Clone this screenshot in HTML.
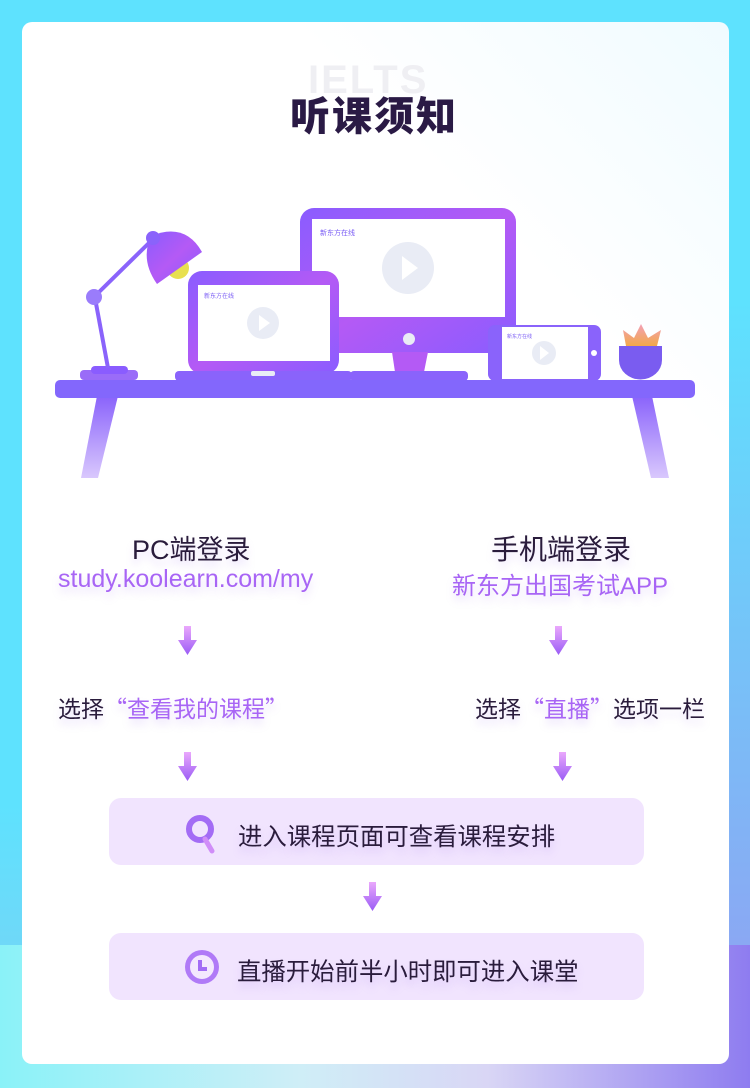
<!DOCTYPE html>
<html><head><meta charset="utf-8"><style>
*{margin:0;padding:0;box-sizing:border-box}
body{width:750px;height:1088px;position:relative;overflow:hidden;font-family:"Liberation Sans","Noto Sans CJK SC",sans-serif;
background:linear-gradient(90deg,#8af2f8 0%,#cfeef7 40%,#d9d6f5 65%,#8e7cf0 100%);}
#top{position:absolute;left:0;top:0;width:750px;height:945px;background:linear-gradient(180deg,#5ee2fe 0%,#5ee2fe 85%,#6fd8f8 100%)}
#top:after{content:"";position:absolute;right:0;top:300px;width:30px;height:645px;background:linear-gradient(180deg,#5ee2fe,#8aa8f3)}
#card{position:absolute;left:22px;top:22px;width:707px;height:1042px;background:linear-gradient(225deg,#f0fbff 0%,#fff 25%);border-radius:10px}
.t{position:absolute;white-space:nowrap;color:#2a1c3c;text-shadow:0 6px 8px rgba(170,130,240,.25)}
.p{color:#a865f5}
.q{font-family:"Noto Sans CJK SC",sans-serif}
.box{position:absolute;left:109px;width:535px;height:67px;background:#f1e4fe;border-radius:12px}
</style></head><body>
<div id="top"></div>
<div id="card"></div>
<div class="t" style="left:308px;top:58px;font-size:40px;font-weight:bold;color:#efeff3;text-shadow:none;letter-spacing:2px">IELTS</div>
<div class="t" style="left:290px;top:84px;font-size:40px;font-weight:900;color:#2a1a45;letter-spacing:2px;text-shadow:none">听课须知</div>

<svg style="position:absolute;left:0;top:0" width="750" height="500">
<defs>
<linearGradient id="leg" x1="0" y1="0" x2="0" y2="1"><stop offset="0" stop-color="#8a63fb"/><stop offset="1" stop-color="#d9c8fd"/></linearGradient>
<linearGradient id="pur" x1="0" y1="0" x2="1" y2="1"><stop offset="0" stop-color="#8a5cff"/><stop offset=".5" stop-color="#b45af5"/><stop offset="1" stop-color="#8a5cff"/></linearGradient>
<linearGradient id="leaf" x1="0" y1="0" x2="0" y2="1"><stop offset="0" stop-color="#f3a0b8"/><stop offset="1" stop-color="#f2a84a"/></linearGradient>
</defs>
<polygon points="97,396 118,396 98,478 81,478" fill="url(#leg)"/>
<polygon points="632,396 652,396 669,478 651,478" fill="url(#leg)"/>
<rect x="300" y="208" width="216" height="145" rx="14" fill="url(#pur)"/>
<rect x="312" y="219" width="193" height="98" fill="#fff"/>
<ellipse cx="408" cy="268" rx="26" ry="26" fill="#e9ecf5"/>
<polygon points="402,256 402,280 418,268" fill="#fff"/>
<text x="320" y="235" font-size="7" fill="#7a5cf5" font-family="Liberation Sans,Noto Sans CJK SC,sans-serif">新东方在线</text>
<circle cx="409" cy="339" r="6" fill="#e9ecf5"/>
<polygon points="392,352 428,352 424,372 395,372" fill="#b45af5"/>
<rect x="350" y="371" width="118" height="10" rx="4" fill="#8a63fb"/>
<rect x="188" y="271" width="151" height="103" rx="14" fill="url(#pur)"/>
<rect x="198" y="285" width="132" height="76" fill="#fff"/>
<ellipse cx="263" cy="323" rx="16" ry="16" fill="#e9ecf5"/>
<polygon points="259,315 259,331 270,323" fill="#fff"/>
<text x="204" y="298" font-size="6" fill="#7a5cf5" font-family="Liberation Sans,Noto Sans CJK SC,sans-serif">新东方在线</text>
<rect x="175" y="371" width="177" height="10" rx="4" fill="#8a63fb"/>
<rect x="251" y="371" width="24" height="5" rx="2" fill="#e9ecf5"/>
<rect x="488" y="325" width="113" height="56" rx="7" fill="#8a63fb"/>
<rect x="502" y="327" width="86" height="52" fill="#fff"/>
<ellipse cx="544" cy="353" rx="12" ry="12" fill="#e9ecf5"/>
<polygon points="540,346 540,360 549,353" fill="#fff"/>
<text x="507" y="338" font-size="5" fill="#7a5cf5" font-family="Liberation Sans,Noto Sans CJK SC,sans-serif">新东方在线</text>
<circle cx="594" cy="353" r="3" fill="#fff"/>
<polygon points="623,330 634,338 641,324 648,338 661,330 657,346 626,346" fill="url(#leaf)"/>
<path d="M619,346 H662 V360 A21,19 0 0 1 619,360 Z" fill="#7a5cf0"/>
<rect x="80" y="370" width="58" height="10" rx="4" fill="#9a6cf8"/>
<rect x="91" y="366" width="37" height="8" rx="4" fill="#8a5cff"/>
<line x1="95" y1="298" x2="108" y2="368" stroke="#8a63fb" stroke-width="4"/>
<line x1="95" y1="296" x2="152" y2="240" stroke="#8a63fb" stroke-width="4"/>
<circle cx="94" cy="297" r="8" fill="#9a7cfb"/>
<circle cx="178" cy="268" r="11" fill="#e8e050"/>
<path d="M151,236 Q185,222 202,252 L157,284 Q140,260 151,236 Z" fill="url(#pur)"/>
<circle cx="153" cy="238" r="7" fill="#8a63fb"/>
<rect x="55" y="380" width="640" height="18" rx="5" fill="#8367fc"/>
</svg>

<div class="t" style="left:132px;top:528px;font-size:27px">PC端登录</div>
<div class="t p" style="left:58px;top:565px;font-size:25px">study.koolearn.com/my</div>
<div class="t" style="left:491px;top:528px;font-size:28px">手机端登录</div>
<div class="t p" style="left:452px;top:566px;font-size:24px">新东方出国考试APP</div>

<div class="t" style="left:58px;top:690px;font-size:23px">选择<span class="p q">“查看我的课程”</span></div>
<div class="t" style="left:475px;top:690px;font-size:23px">选择<span class="p q">“直播”</span>选项一栏</div>

<svg style="position:absolute;left:0;top:0" width="750" height="1088">
<defs><linearGradient id="ar" x1="0" y1="0" x2="0" y2="1"><stop offset="0" stop-color="#eaa8fc"/><stop offset="1" stop-color="#9a5cf5"/></linearGradient></defs>
<g fill="url(#ar)">
<path d="M184,626h7v14h6l-9.5,15l-9.5,-15h6z"/>
<path d="M555,626h7v14h6l-9.5,15l-9.5,-15h6z"/>
<path d="M184,752h7v14h6l-9.5,15l-9.5,-15h6z"/>
<path d="M559,752h7v14h6l-9.5,15l-9.5,-15h6z"/>
<path d="M369,882h7v14h6l-9.5,15l-9.5,-15h6z"/>
</g>
</svg>

<div class="box" style="top:798px"></div>
<div class="box" style="top:933px"></div>
<svg style="position:absolute;left:180px;top:812px" width="40" height="42">
<circle cx="20" cy="17" r="11" fill="none" stroke="#a36cf5" stroke-width="6"/>
<line x1="25" y1="27" x2="32" y2="39" stroke="#d08df8" stroke-width="5" stroke-linecap="round"/>
</svg>
<svg style="position:absolute;left:182px;top:946px" width="40" height="42">
<circle cx="20" cy="21" r="17" fill="#b07af7"/>
<circle cx="20" cy="21" r="12" fill="#f4e8fe"/>
<path d="M18,14v9h7" fill="none" stroke="#a36cf5" stroke-width="4"/>
</svg>
<div class="t" style="left:238px;top:818px;font-size:24.4px">进入课程页面可查看课程安排</div>
<div class="t" style="left:237px;top:953px;font-size:24.4px">直播开始前半小时即可进入课堂</div>
</body></html>
